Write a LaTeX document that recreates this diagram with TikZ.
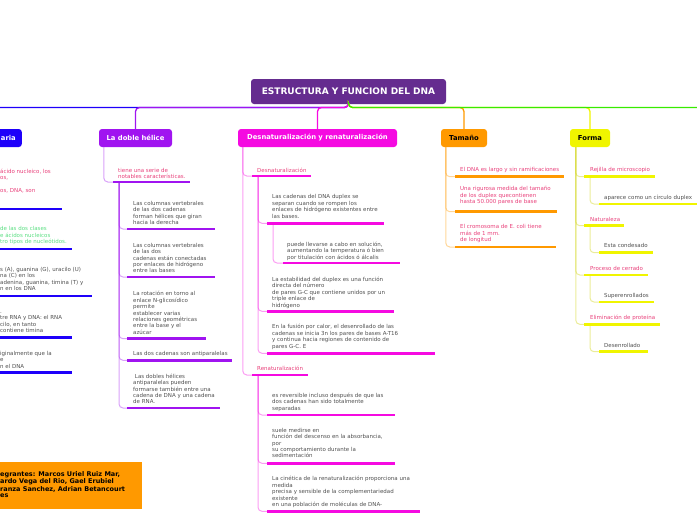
\documentclass[tikz,border=0pt]{standalone}
\usepackage{fontspec}
\setmainfont{DejaVu Sans}
\definecolor{croot}{RGB}{101,44,143}
\definecolor{cblue}{RGB}{30,0,250}
\definecolor{cviolet}{RGB}{160,20,240}
\definecolor{cmag}{RGB}{245,10,225}
\definecolor{corange}{RGB}{255,153,0}
\definecolor{cyellow}{RGB}{240,245,0}
\definecolor{cgreen}{RGB}{55,235,0}
\definecolor{hdrpink}{RGB}{232,64,122}
\definecolor{txtgray}{RGB}{80,80,80}
\definecolor{txtgreen}{RGB}{90,222,130}
\begin{document}
\begin{tikzpicture}[x=1pt, y=-1pt,
  topic/.style={rounded corners=3pt, minimum height=18pt, inner sep=0pt, font=\bfseries\fontsize{6.8}{8}\selectfont},
  txt/.style={anchor=north west, inner sep=0pt, align=left, text=txtgray, font=\fontsize{5.5}{6.4}\selectfont},
  hdr/.style={txt, text=hdrpink},
  ul/.style={line width=2.6pt},
  cn/.style={line width=1pt, rounded corners=4pt, draw opacity=.4},
  top/.style={line width=1.3pt, rounded corners=4pt}]
\useasboundingbox (0,0) rectangle (697,520);

\node[topic, fill=croot, text=white, minimum width=195pt, minimum height=25pt, font=\bfseries\fontsize{9}{10}\selectfont] (rt) at (348.5,91.5) {ESTRUCTURA Y FUNCION DEL DNA};
\node[topic, fill=cblue, text=white, text width=46pt, align=right, inner xsep=6pt, anchor=east] (es) at (22,138) {aria};
\node[topic, fill=cviolet, text=white, minimum width=73pt] (dh) at (135.5,138) {La doble hélice};
\node[topic, fill=cmag, text=white, minimum width=159pt] (dr) at (317.5,138) {Desnaturalización y renaturalización};
\node[topic, fill=corange, minimum width=46pt] (tm) at (464,138) {Tamaño};
\node[topic, fill=cyellow, minimum width=40pt] (fo) at (590,138) {Forma};

\coordinate (lft) at (-10,107.5);
\coordinate (rgt) at (705,107.5);
\draw[top, cblue] (rt.south) |- (lft);
\draw[top, cviolet] (rt.south) |- (lft -| dh.north) -- (dh.north);
\draw[top, cmag] (rt.south) |- (lft -| dr.north) -- (dr.north);
\draw[top, corange] (rt.south) |- (rgt -| tm.north) -- (tm.north);
\draw[top, cyellow] (rt.south) |- (rgt -| fo.north) -- (fo.north);
\draw[top, cgreen] (rt.south) |- (rgt);

\node[hdr] (es1) at (0,168.6) {ácido nucleico, los\\os,\\[6.4pt]os, DNA, son};
\coordinate (es1u) at (-20,209);
\draw[ul, cblue] (es1u) -- ++(82,0);
\node[txt, text=txtgreen] (es2) at (0,226.6) {de las dos clases\\e ácidos nucleicos\\tro tipos de nucleótidos.};
\coordinate (es2u) at (-20,249);
\draw[ul, cblue] (es2u) -- ++(92,0);
\node[txt] (es3) at (0,267.2) {s (A), guanina (G), uracilo (U)\\na (C) en los\\adenina, guanina, timina (T) y\\n en los DNA};
\coordinate (es3u) at (-20,296);
\draw[ul, cblue] (es3u) -- ++(112,0);
\node[txt] (es4) at (0,308.9) {.\vphantom{l}\\tre RNA y DNA: el RNA\\cilo, en tanto\\contiene timina};
\coordinate (es4u) at (-20,337.3);
\draw[ul, cblue] (es4u) -- ++(92,0);
\node[txt] (es5) at (0,351.2) {iginalmente que la\\e\\n el DNA};
\coordinate (es5u) at (-20,372.7);
\draw[ul, cblue] (es5u) -- ++(92,0);

\node[hdr] (dh0) at (118,167.9) {tiene una serie de\\notables características.};
\coordinate (dh0u) at (113,182);
\coordinate (dh0d) at (119,182);
\draw[cn, cviolet] ([xshift=5pt]dh.south west) |- (dh0u);
\node[txt] (dh1) at (133,200.9) {Las columnas vertebrales\\de las dos cadenas\\forman hélices que giran\\hacia la derecha};
\coordinate (dh1u) at (127,229);
\node[txt] (dh2) at (133,242.9) {Las columnas vertebrales\\de las dos\\cadenas están conectadas\\por enlaces de hidrógeno\\entre las bases};
\coordinate (dh2u) at (127,277);
\node[txt] (dh3) at (133,291.2) {La rotación en torno al\\enlace N-glicosídico\\permite\\establecer varias\\relaciones geométricas\\entre la base y el\\azúcar};
\coordinate (dh3u) at (127,338.7);
\node[txt] (dh4) at (133,351.2) {Las dos cadenas son antiparalelas};
\coordinate (dh4u) at (127,360.3);
\node[txt] (dh5) at (133,373.6) {\ Las dobles hélices\\antiparalelas pueden\\formarse también entre una\\cadena de DNA y una cadena\\de RNA.};
\coordinate (dh5u) at (127,408);
\draw[cn, cviolet] (dh0d) |- (dh1u);
\draw[cn, cviolet] (dh0d) |- (dh2u);
\draw[cn, cviolet] (dh0d) |- (dh3u);
\draw[cn, cviolet] (dh0d) |- (dh4u);
\draw[cn, cviolet] (dh0d) |- (dh5u);
\draw[ul, cviolet] (dh0u) -- ++(77,0);
\draw[ul, cviolet] (dh1u) -- ++(88,0);
\draw[ul, cviolet] (dh2u) -- ++(88,0);
\draw[ul, cviolet] (dh3u) -- ++(79,0);
\draw[ul, cviolet] (dh4u) -- ++(105,0);
\draw[ul, cviolet] (dh5u) -- ++(93,0);

\node[hdr] (de) at (257,167.9) {Desnaturalización};
\coordinate (deu) at (252,176);
\coordinate (ded) at (258,176);
\node[hdr] (re) at (257,365.4) {Renaturalización};
\coordinate (reu) at (252,375);
\coordinate (red) at (258,375);
\draw[cn, cmag] ([xshift=5pt]dr.south west) |- (deu);
\draw[cn, cmag] ([xshift=5pt]dr.south west) |- (reu);
\node[txt] (de1) at (272,194.6) {Las cadenas del DNA duplex se\\separan cuando se rompen los\\enlaces de hidrógeno existentes entre\\las bases.};
\coordinate (de1u) at (267,223.3);
\coordinate (de1d) at (273,223.3);
\node[txt] (de11) at (287,241.9) {puede llevarse a cabo en solución,\\aumentando la temperatura ó bien\\por titulación con ácidos ó álcalis};
\coordinate (de11u) at (283,263);
\node[txt] (de2) at (272,276.9) {La estabilidad del duplex es una función\\directa del número\\de pares G-C que contiene unidos por un\\triple enlace de\\hidrógeno};
\coordinate (de2u) at (267,311.3);
\node[txt] (de3) at (272,324.2) {En la fusión por calor, el desenrollado de las\\cadenas se inicia 3n los pares de bases A-T16\\y continua hacia regiones de contenido de\\pares G-C. E};
\coordinate (de3u) at (267,353.3);
\node[txt] (re1) at (272,392.9) {es reversible incluso después de que las\\dos cadenas han sido totalmente\\separadas};
\coordinate (re1u) at (267,415);
\node[txt] (re2) at (272,427.9) {suele medirse en\\función del descenso en la absorbancia,\\por\\su comportamiento durante la\\sedimentación};
\coordinate (re2u) at (267,463.3);
\node[txt] (re3) at (272,476.2) {La cinética de la renaturalización proporciona una\\medida\\precisa y sensible de la complementariedad\\existente\\en una población de moléculas de DNA-};
\coordinate (re3u) at (267,511.3);
\draw[cn, cmag] (ded) |- (de1u);
\draw[cn, cmag] (ded) |- (de2u);
\draw[cn, cmag] (ded) |- (de3u);
\draw[cn, cmag] (de1d) |- (de11u);
\draw[cn, cmag] (red) |- (re1u);
\draw[cn, cmag] (red) |- (re2u);
\draw[cn, cmag] (red) |- (re3u);
\draw[ul, cmag] (deu) -- ++(59,0);
\draw[ul, cmag] (reu) -- ++(56,0);
\draw[ul, cmag] (de1u) -- ++(117,0);
\draw[ul, cmag] (de11u) -- ++(117,0);
\draw[ul, cmag] (de2u) -- ++(127,0);
\draw[ul, cmag] (de3u) -- ++(168,0);
\draw[ul, cmag] (re1u) -- ++(128,0);
\draw[ul, cmag] (re2u) -- ++(128,0);
\draw[ul, cmag] (re3u) -- ++(153,0);

\node[hdr] (tm1) at (460,167.2) {El DNA es largo y sin ramificaciones};
\coordinate (tm1u) at (455,176.7);
\node[hdr] (tm2) at (460,186.2) {Una rigurosa medida del tamaño\\de los duplex quecontienen\\hasta 50.000 pares de base};
\coordinate (tm2u) at (455,211.7);
\node[hdr] (tm3) at (460,224.6) {El cromosoma de E. coli tiene\\más de 1 mm.\\de longitud};
\coordinate (tm3u) at (455,247);
\draw[cn, corange] ([xshift=5pt]tm.south west) |- (tm1u);
\draw[cn, corange] ([xshift=5pt]tm.south west) |- (tm2u);
\draw[cn, corange] ([xshift=5pt]tm.south west) |- (tm3u);
\draw[ul, corange] (tm1u) -- ++(109,0);
\draw[ul, corange] (tm2u) -- ++(102,0);
\draw[ul, corange] (tm3u) -- ++(101,0);

\node[hdr] (fo1) at (590,167.2) {Rejilla de microscopio};
\coordinate (fo1u) at (584,176.7);
\coordinate (fo1d) at (590,176.7);
\node[txt] (fo11) at (604,194.9) {aparece como un círculo duplex};
\coordinate (fo11u) at (599,204);
\node[hdr] (fo2) at (590,216.9) {Naturaleza};
\coordinate (fo2u) at (584,225.7);
\coordinate (fo2d) at (590,225.7);
\node[txt] (fo21) at (604,243.6) {Esta condesado};
\coordinate (fo21u) at (599,252.7);
\node[hdr] (fo3) at (590,266.2) {Proceso de cerrado};
\coordinate (fo3u) at (584,275);
\coordinate (fo3d) at (590,275);
\node[txt] (fo31) at (604,292.9) {Superenrollados};
\coordinate (fo31u) at (599,302);
\node[hdr] (fo4) at (590,314.9) {Eliminación de proteína};
\coordinate (fo4u) at (584,324.3);
\coordinate (fo4d) at (590,324.3);
\node[txt] (fo41) at (604,342.9) {Desenrollado};
\coordinate (fo41u) at (599,351.7);
\draw[cn, cyellow!85!black] ([xshift=6pt]fo.south west) |- (fo1u);
\draw[cn, cyellow!85!black] ([xshift=6pt]fo.south west) |- (fo2u);
\draw[cn, cyellow!85!black] ([xshift=6pt]fo.south west) |- (fo3u);
\draw[cn, cyellow!85!black] ([xshift=6pt]fo.south west) |- (fo4u);
\draw[cn, cyellow!85!black] (fo1d) |- (fo11u);
\draw[cn, cyellow!85!black] (fo2d) |- (fo21u);
\draw[cn, cyellow!85!black] (fo3d) |- (fo31u);
\draw[cn, cyellow!85!black] (fo4d) |- (fo41u);
\draw[ul, cyellow] (fo1u) -- ++(71,0);
\draw[ul, cyellow] (fo11u) -- ++(110,0);
\draw[ul, cyellow] (fo2u) -- ++(40,0);
\draw[ul, cyellow] (fo21u) -- ++(54,0);
\draw[ul, cyellow] (fo3u) -- ++(64,0);
\draw[ul, cyellow] (fo31u) -- ++(55,0);
\draw[ul, cyellow] (fo4u) -- ++(76,0);
\draw[ul, cyellow] (fo41u) -- ++(49,0);

\fill[corange] (-5,462) rectangle (142,509);
\node[anchor=west, align=left, inner sep=0pt, font=\bfseries\fontsize{6.5}{6.1}\selectfont] (ig) at (0,484.5) {egrantes: Marcos Uriel Ruiz Mar,\\ardo Vega del Rio, Gael Erubiel\\ranza Sanchez, Adrian Betancourt\\es};
\end{tikzpicture}
\end{document}
